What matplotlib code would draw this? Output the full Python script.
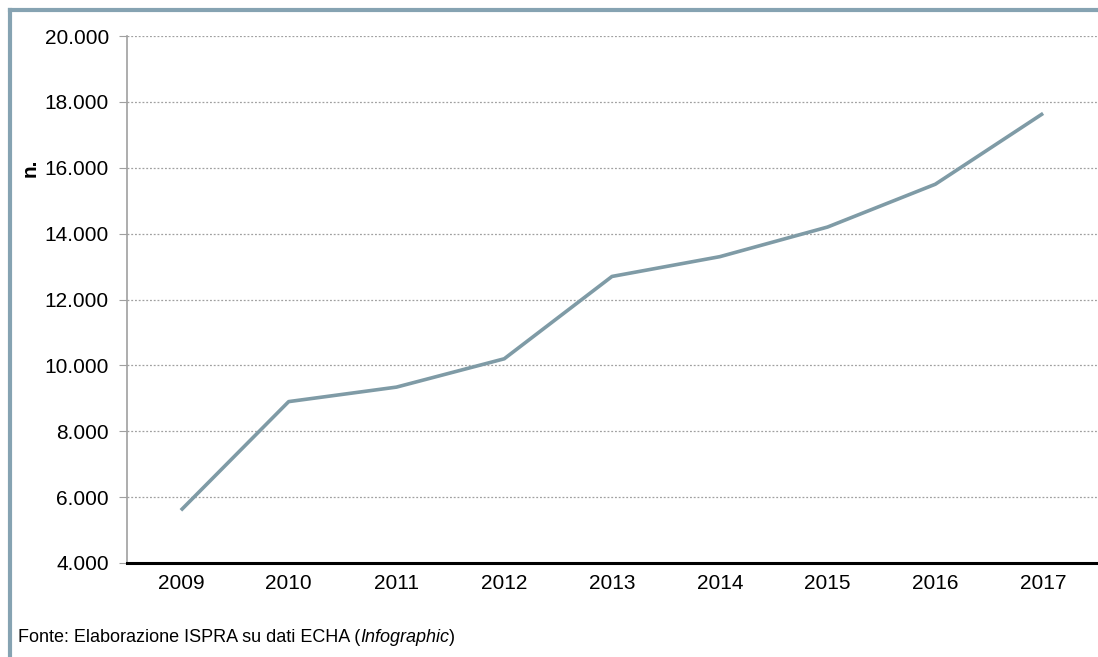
import matplotlib.pyplot as plt
from matplotlib.lines import Line2D

anni = ['2009', '2010', '2011', '2012', '2013', '2014', '2015', '2016', '2017']
valori = [5600, 8900, 9340, 10200, 12700, 13300, 14200, 15500, 17650]
yticks = [4000, 6000, 8000, 10000, 12000, 14000, 16000, 18000, 20000]

plt.rcParams['font.family'] = ['Liberation Sans', 'DejaVu Sans']

fig = plt.figure(figsize=(10.98, 6.57), dpi=100)
ax = fig.add_axes([127 / 1098, 1 - 563 / 657, (1097 - 127) / 1098, (563 - 36) / 657])

x = list(range(len(anni)))
ax.plot(x, valori, color='#7f9ba6', lw=2.6, solid_capstyle='butt')

ax.set_xlim(-0.5, len(anni) - 0.5)
ax.set_ylim(4000, 20000)
ax.set_xticks(x)
ax.set_xticklabels(anni, fontsize=15)
ax.set_yticks(yticks)
ax.set_yticklabels([f'{v:,}'.replace(',', '.') for v in yticks], fontsize=15)
ax.tick_params(axis='x', length=0, pad=8)
ax.tick_params(axis='y', length=6, color='#a0a0a0', pad=7)

ax.grid(axis='y', color='#a0a0a0', linestyle=(0, (1.5, 1.5)), lw=0.9)
ax.set_axisbelow(True)
for s in ['top', 'right']:
    ax.spines[s].set_visible(False)
ax.spines['left'].set_color('#a0a0a0')
ax.spines['left'].set_linewidth(1.2)
ax.spines['bottom'].set_color('black')
ax.spines['bottom'].set_linewidth(2.2)

ax.set_ylabel('n.', fontsize=15, fontweight='bold')
ax.yaxis.set_label_coords(-0.09, 0.75)

# nota fonte
y_f = 1 - 637 / 657
r = fig.canvas.get_renderer()
t1 = fig.text(18 / 1098, y_f, 'Fonte: Elaborazione ISPRA su dati ECHA (', fontsize=13,
              va='center', ha='left')
bb = t1.get_window_extent(renderer=r)
t2 = fig.text(bb.x1 / 1098, y_f, 'Infographic', fontsize=13, style='italic',
              va='center', ha='left')
bb2 = t2.get_window_extent(renderer=r)
fig.text(bb2.x1 / 1098, y_f, ')', fontsize=13, va='center', ha='left')

# cornice
bc = '#86a3b2'
fig.add_artist(Line2D([10 / 1098, 10 / 1098], [0, 1 - 10 / 657], color=bc, lw=3,
                      transform=fig.transFigure))
fig.add_artist(Line2D([10 / 1098, 1], [1 - 10 / 657, 1 - 10 / 657], color=bc, lw=3,
                      transform=fig.transFigure))

fig.savefig('out.png', dpi=100)
